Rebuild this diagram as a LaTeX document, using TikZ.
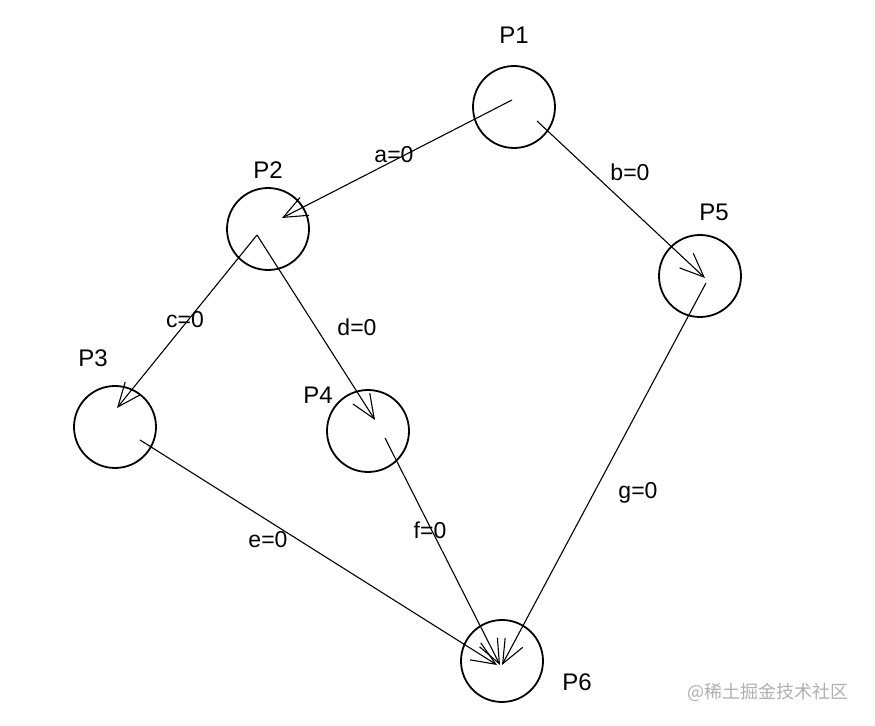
\documentclass[tikz,border=0pt]{standalone}
\usepackage{fontspec}
\setmainfont{Liberation Sans}
\newfontfamily\cjk{Noto Sans CJK SC}
\usetikzlibrary{arrows.meta, calc}
\definecolor{markGray}{RGB}{175,175,175}

\begin{document}
\begin{tikzpicture}[
    x=0.5pt, y=-0.5pt,
    proc/.style={draw=black, circle, line width=0.9pt, minimum size=41pt, inner sep=0pt},
    plabel/.style={font=\fontsize{12}{14}\selectfont},
    elabel/.style={font=\fontsize{11.5}{13}\selectfont, inner sep=1pt},
    edge/.style={-{Straight Barb[length=12pt, width=10pt]}, line width=0.55pt, black}
  ]
    \useasboundingbox (0,0) rectangle (875,726);

    % processes
    \node[proc] (p1) at (514,107) {};
    \node[proc] (p2) at (268,229) {};
    \node[proc] (p3) at (115,427) {};
    \node[proc] (p4) at (368,431) {};
    \node[proc] (p5) at (700,276) {};
    \node[proc] (p6) at (502,661) {};

    \node[plabel] (n1) at (514,35) {P1};
    \node[plabel] (n2) at (268,170) {P2};
    \node[plabel] (n3) at (93,358) {P3};
    \node[plabel] (n4) at (318,395) {P4};
    \node[plabel] (n5) at (714,212) {P5};
    \node[plabel] (n6) at (577,682) {P6};

    % edges
    \draw[edge] ($(p1.center)+(-2,-7)$) -- ($(p2.center)+(14,-11)$);
    \draw[edge] ($(p1.center)+(23,14)$) -- ($(p5.center)+(5,2)$);
    \draw[edge] ($(p2.center)+(-11,6)$) -- ($(p3.center)+(2,-19)$);
    \draw[edge] ($(p2.center)+(-11,6)$) -- ($(p4.center)+(7,-11)$);
    \draw[edge] ($(p3.center)+(25,13)$) -- ($(p6.center)+(-5,4)$);
    \draw[edge] ($(p4.center)+(17,7)$) -- ($(p6.center)+(-2,4)$);
    \draw[edge] ($(p5.center)+(6,7)$) -- ($(p6.center)+(0,4)$);

    \node[elabel] (la) at (394,155) {a=0};
    \node[elabel] (lb) at (630,172) {b=0};
    \node[elabel] (lc) at (185,320) {c=0};
    \node[elabel] (ld) at (357,327) {d=0};
    \node[elabel] (le) at (268,540) {e=0};
    \node[elabel] (lf) at (430,530) {f=0};
    \node[elabel] (lg) at (638,493) {g=0};

    \node[text=markGray, font=\cjk\fontsize{9}{11}\selectfont] (mark) at (768,692) {@稀土掘金技术社区};
  \end{tikzpicture}
\end{document}
